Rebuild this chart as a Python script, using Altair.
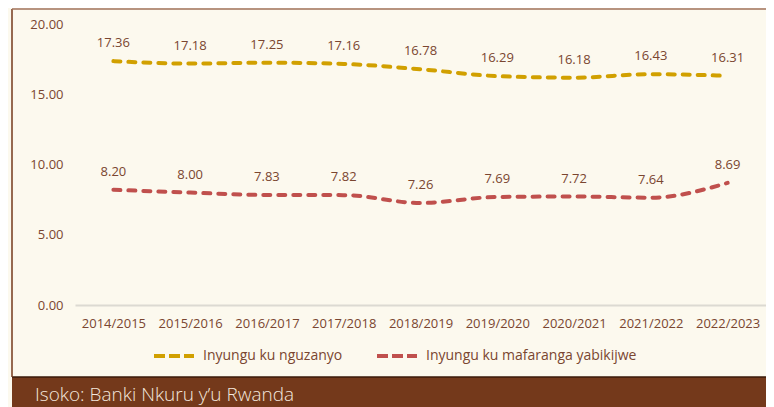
import altair as alt
import pandas as pd

years = ["2014/2015", "2015/2016", "2016/2017", "2017/2018", "2018/2019",
         "2019/2020", "2020/2021", "2021/2022", "2022/2023"]
loans = [17.36, 17.18, 17.25, 17.16, 16.78, 16.29, 16.18, 16.43, 16.31]
deposits = [8.20, 8.00, 7.83, 7.82, 7.26, 7.69, 7.72, 7.64, 8.69]
series_names = ["Inyungu ku nguzanyo", "Inyungu ku mafaranga yabikijwe"]
series_colors = ["#d1a000", "#c0504d"]
y_ticks = [0, 5, 10, 15, 20]
source_text = "Isoko: Banki Nkuru y\u2019u Rwanda"

rows = []
for name, vals in zip(series_names, [loans, deposits]):
    for yr, v in zip(years, vals):
        rows.append({"series": name, "year": yr, "value": v})
df = pd.DataFrame(rows)

FONT = "Open Sans"
TXT = "#7a4630"
BROWN = "#74391b"
W, H = 691, 281
FS = 13

base = alt.Chart(df)

x_enc = alt.X("year:N", sort=years, title=None,
              scale=alt.Scale(paddingInner=0, paddingOuter=0.5),
              axis=alt.Axis(labelAngle=0, ticks=False, domain=True,
                            domainColor="#dcdad2", domainWidth=2,
                            labelPadding=12, labelFontSize=FS,
                            labelColor=TXT, labelFont=FONT, grid=False))
y_enc = alt.Y("value:Q", title=None,
              scale=alt.Scale(domain=[0, 20], nice=False),
              axis=alt.Axis(values=y_ticks, format=".2f", ticks=False,
                            domain=False, grid=False, labelPadding=12,
                            labelFontSize=FS, labelColor=TXT,
                            labelFont=FONT))
color_enc = alt.Color("series:N", sort=series_names,
                      scale=alt.Scale(domain=series_names, range=series_colors),
                      legend=alt.Legend(title=None, orient="none",
                                        direction="horizontal",
                                        legendX=77, legendY=310,
                                        symbolType="stroke", symbolSize=1600,
                                        symbolStrokeWidth=4,
                                        symbolDash=[11, 4],
                                        labelFont=FONT, labelFontSize=14,
                                        labelColor=TXT, labelOffset=7,
                                        labelLimit=400,
                                        columnPadding=26))

lines = base.mark_line(interpolate="monotone", strokeWidth=4,
                       strokeDash=[7, 8], strokeCap="round").encode(
    x=x_enc, y=y_enc, color=color_enc)

labels = base.mark_text(dy=-18, baseline="middle", align="center",
                        font=FONT, fontSize=FS, color=TXT).encode(
    x=alt.X("year:N", sort=years),
    y="value:Q",
    text=alt.Text("value:Q", format=".2f"))

one = pd.DataFrame({"k": [0]})
left_rule = alt.Chart(one).mark_rule(color=BROWN, strokeWidth=1.5).encode(
    x=alt.value(-63), y=alt.value(-15), y2=alt.value(353))
top_rule = alt.Chart(one).mark_rule(color="#a0705a", strokeWidth=1.5).encode(
    x=alt.value(-63), x2=alt.value(699), y=alt.value(-15))
band = alt.Chart(one).mark_rect(color=BROWN).encode(
    x=alt.value(-63), x2=alt.value(699), y=alt.value(353), y2=alt.value(390))
band_line = alt.Chart(one).mark_rule(color="#3a1a0a", strokeWidth=1.5).encode(
    x=alt.value(-63), x2=alt.value(699), y=alt.value(353))
src = alt.Chart(one).mark_text(text=source_text, align="left",
                               baseline="alphabetic", font=FONT,
                               fontSize=19, fontWeight=300,
                               color="#f3e7dd").encode(
    x=alt.value(-40), y=alt.value(377))

chart = alt.layer(band, band_line, left_rule, top_rule, lines, labels, src).properties(
    width=W, height=H,
    background="#fcf9ee",
    padding={"left": 67, "top": 16, "right": 0, "bottom": 102},
    autosize=alt.AutoSizeParams(type="none"),
).configure_view(stroke=None)

chart.save("out.html", embed_options={"renderer": "svg", "actions": False})
